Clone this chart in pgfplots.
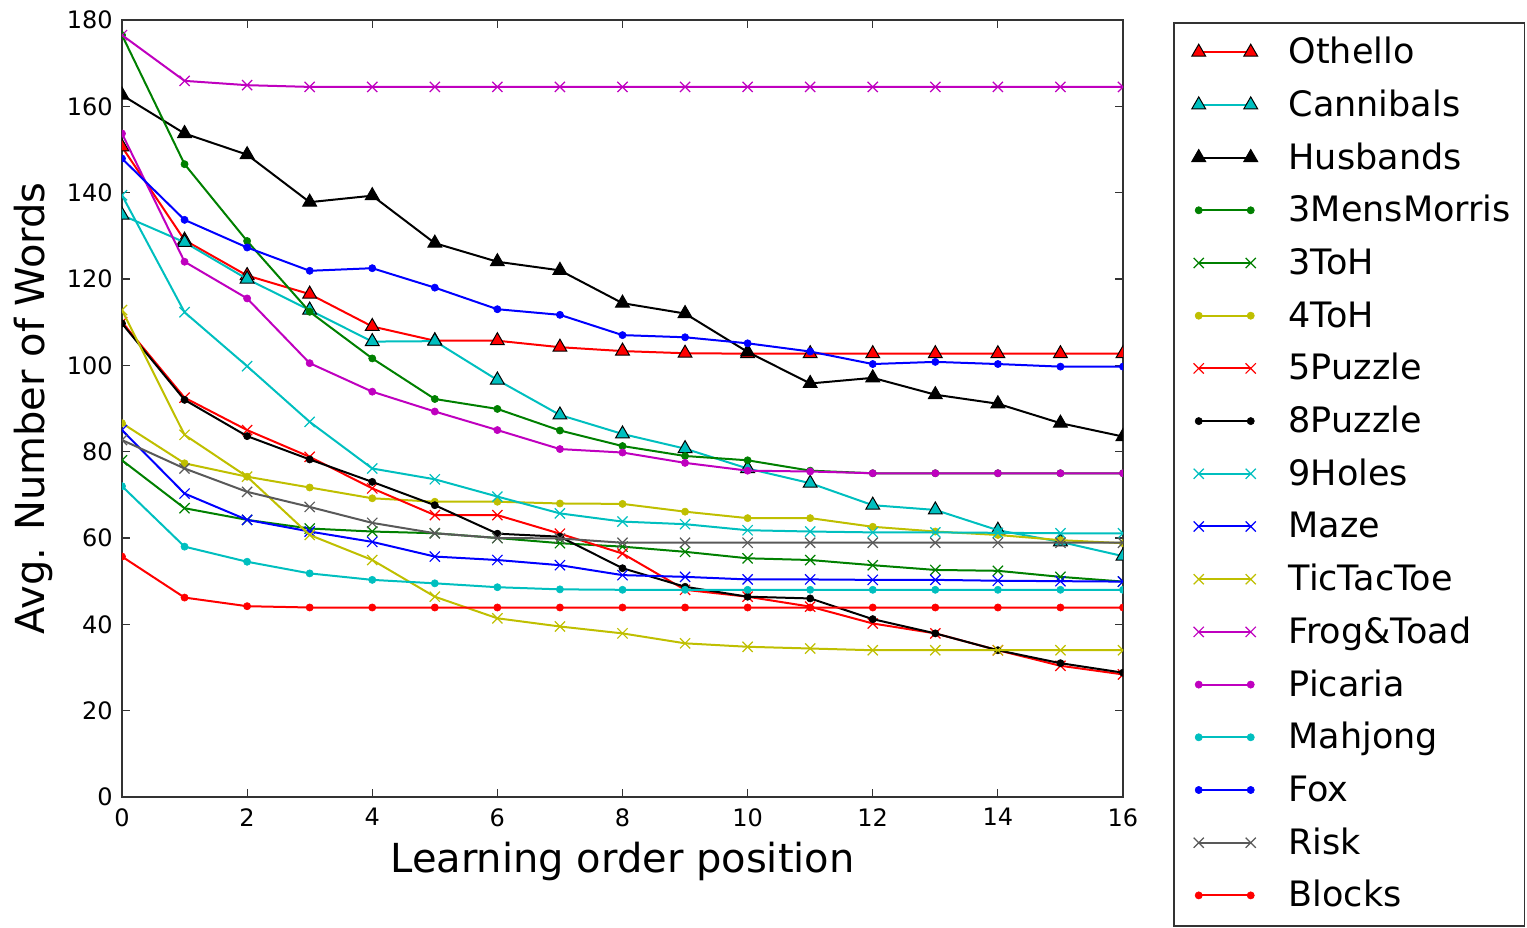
\documentclass[border=0pt]{standalone}
\usepackage{fontspec}
\setmainfont{DejaVu Sans}
\usepackage{pgfplots}
\pgfplotsset{compat=1.18}
\definecolor{mR}{rgb}{1,0,0}
\definecolor{mC}{rgb}{0,0.75,0.75}
\definecolor{mG}{rgb}{0,0.5,0}
\definecolor{mY}{rgb}{0.75,0.75,0}
\definecolor{mB}{rgb}{0,0,1}
\definecolor{mM}{rgb}{0.75,0,0.75}
\pgfplotsset{
  tri/.style={color=#1, line width=1pt, mark=triangle*, mark size=4pt, mark options={draw=black, fill=#1, line width=0.5pt}},
  dot/.style={color=#1, line width=1pt, mark=*, mark size=1.8pt, mark options={draw=#1, fill=#1, line width=0.3pt}},
  crs/.style={color=#1, line width=1pt, mark=x, mark size=3.6pt, mark options={line width=0.6pt}},
}
\begin{document}
\begin{tikzpicture}
\begin{axis}[
  at={(0,0)}, anchor=south west,
  scale only axis, width=500.5pt, height=388.5pt,
  xmin=0, xmax=16, ymin=0, ymax=180,
  xtick={0,2,...,16}, ytick={0,20,...,180},
  tick align=inside, major tick length=4pt,
  tick style={black!80, line width=0.6pt},
  axis line style={black!80, line width=1pt},
  ticklabel style={font=\fontsize{12}{14}\selectfont},
  /pgf/number format/assume math mode=true,
  xticklabel style={inner sep=0pt, yshift=-5.5pt},
  yticklabel style={inner sep=0pt, xshift=-4.5pt},
  xlabel={Learning order position},
  ylabel={Avg. Number of Words},
  label style={font=\fontsize{20}{24}\selectfont},
  xlabel style={at={(axis description cs:0.5,-0.083)}, anchor=center},
  ylabel style={at={(axis description cs:-0.0889,0.5)}, anchor=center},
  clip marker paths=true,
  legend image code/.code={\draw[#1, yshift=0.3pt] plot coordinates {(0pt,0pt) (26pt,0pt)};},
  legend cell align=left,
  legend style={at={(axis description cs:1.04995,0.99743)}, anchor=north west,
    draw=black!80, line width=0.8pt, fill=white,
    inner xsep=9pt, inner ysep=1.825pt, row sep=0pt,
    font=\fontsize{17.5}{21}\selectfont,
    nodes={inner sep=0pt, text height=18.575pt, text depth=7.775pt, text width=109pt},
    /tikz/column sep=15.5pt},
]
\addplot[tri=mR] coordinates {(0,150.6)(1,129)(2,120.8)(3,116.5)(4,109)(5,105.7)(6,105.7)(7,104.2)(8,103.3)(9,102.8)(10,102.7)(11,102.7)(12,102.7)(13,102.7)(14,102.7)(15,102.7)(16,102.7)};
\addlegendentry{Othello}
\addplot[tri=mC] coordinates {(0,134.8)(1,128.5)(2,120)(3,112.8)(4,105.5)(5,105.6)(6,96.6)(7,88.5)(8,84.1)(9,80.7)(10,76.1)(11,72.7)(12,67.6)(13,66.5)(14,61.8)(15,59.1)(16,55.8)};
\addlegendentry{Cannibals}
\addplot[tri=black] coordinates {(0,162.6)(1,153.7)(2,148.8)(3,137.8)(4,139.3)(5,128.3)(6,124)(7,122)(8,114.4)(9,112)(10,103.1)(11,95.8)(12,97.1)(13,93.2)(14,91.1)(15,86.6)(16,83.5)};
\addlegendentry{Husbands}
\addplot[dot=mG] coordinates {(0,176.5)(1,146.6)(2,128.8)(3,112.4)(4,101.6)(5,92.2)(6,89.9)(7,84.9)(8,81.3)(9,79)(10,78)(11,75.6)(12,75)(13,75)(14,75)(15,75)(16,75)};
\addlegendentry{3MensMorris}
\addplot[crs=mG] coordinates {(0,78)(1,66.9)(2,64.2)(3,62.2)(4,61.5)(5,61.1)(6,60)(7,58.8)(8,58)(9,56.8)(10,55.3)(11,54.9)(12,53.7)(13,52.6)(14,52.4)(15,51)(16,49.9)};
\addlegendentry{3ToH}
\addplot[dot=mY] coordinates {(0,86.6)(1,77.3)(2,74.2)(3,71.7)(4,69.2)(5,68.4)(6,68.4)(7,68)(8,67.9)(9,66.1)(10,64.6)(11,64.6)(12,62.6)(13,61.5)(14,60.7)(15,59.5)(16,58.8)};
\addlegendentry{4ToH}
\addplot[crs=mR] coordinates {(0,110)(1,92.5)(2,85)(3,78.8)(4,71.5)(5,65.3)(6,65.3)(7,61)(8,56.4)(9,48)(10,46.4)(11,44.1)(12,40.2)(13,37.9)(14,34)(15,30.4)(16,28.4)};
\addlegendentry{5Puzzle}
\addplot[dot=black] coordinates {(0,109.7)(1,92)(2,83.6)(3,78.2)(4,73)(5,67.6)(6,61)(7,60.3)(8,53)(9,48.7)(10,46.4)(11,46)(12,41.2)(13,37.9)(14,34)(15,31)(16,28.8)};
\addlegendentry{8Puzzle}
\addplot[crs=mC] coordinates {(0,139.4)(1,112.3)(2,99.8)(3,86.9)(4,76.1)(5,73.6)(6,69.6)(7,65.7)(8,63.8)(9,63.2)(10,61.8)(11,61.5)(12,61.3)(13,61.3)(14,61.2)(15,61.1)(16,61.1)};
\addlegendentry{9Holes}
\addplot[crs=mB] coordinates {(0,85)(1,70.3)(2,64.2)(3,61.5)(4,59.1)(5,55.7)(6,54.9)(7,53.7)(8,51.4)(9,51)(10,50.4)(11,50.4)(12,50.3)(13,50.3)(14,50.1)(15,50)(16,49.9)};
\addlegendentry{Maze}
\addplot[crs=mY] coordinates {(0,112.8)(1,83.9)(2,74.2)(3,60.7)(4,54.9)(5,46.4)(6,41.4)(7,39.5)(8,37.9)(9,35.6)(10,34.8)(11,34.4)(12,34)(13,34)(14,34)(15,34)(16,34)};
\addlegendentry{TicTacToe}
\addplot[crs=mM] coordinates {(0,176.5)(1,165.9)(2,164.9)(3,164.5)(4,164.5)(5,164.5)(6,164.5)(7,164.5)(8,164.5)(9,164.5)(10,164.5)(11,164.5)(12,164.5)(13,164.5)(14,164.5)(15,164.5)(16,164.5)};
\addlegendentry{Frog\&Toad}
\addplot[dot=mM] coordinates {(0,153.7)(1,124)(2,115.5)(3,100.5)(4,93.9)(5,89.3)(6,85)(7,80.6)(8,79.8)(9,77.4)(10,75.6)(11,75.4)(12,75)(13,75)(14,75)(15,75)(16,75)};
\addlegendentry{Picaria}
\addplot[dot=mC] coordinates {(0,72)(1,58)(2,54.5)(3,51.8)(4,50.3)(5,49.5)(6,48.6)(7,48.1)(8,48)(9,48)(10,48)(11,48)(12,48)(13,48)(14,48)(15,48)(16,48)};
\addlegendentry{Mahjong}
\addplot[dot=mB] coordinates {(0,147.9)(1,133.7)(2,127.3)(3,121.9)(4,122.5)(5,118)(6,113)(7,111.7)(8,107)(9,106.5)(10,105.1)(11,103.2)(12,100.3)(13,100.8)(14,100.3)(15,99.7)(16,99.7)};
\addlegendentry{Fox}
\addplot[crs=black!65] coordinates {(0,82.7)(1,76.1)(2,70.7)(3,67.2)(4,63.5)(5,61.1)(6,60)(7,59.9)(8,58.9)(9,58.9)(10,58.9)(11,58.9)(12,58.9)(13,58.9)(14,58.9)(15,58.9)(16,58.9)};
\addlegendentry{Risk}
\addplot[dot=mR] coordinates {(0,55.7)(1,46.2)(2,44.2)(3,43.9)(4,43.9)(5,43.9)(6,43.9)(7,43.9)(8,43.9)(9,43.9)(10,43.9)(11,43.9)(12,43.9)(13,43.9)(14,43.9)(15,43.9)(16,43.9)};
\addlegendentry{Blocks}
\end{axis}
\pgfresetboundingbox
\path[use as bounding box] (-61pt,-65pt) rectangle (702.5pt,398.5pt);
\end{tikzpicture}
\end{document}
